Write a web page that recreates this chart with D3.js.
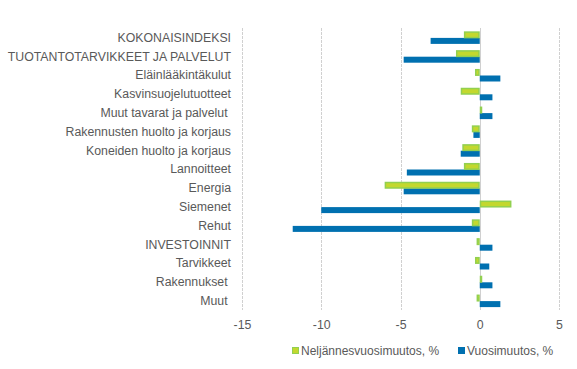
<!DOCTYPE html>
<html>
<head>
<meta charset="utf-8">
<script src="https://cdn.jsdelivr.net/npm/d3@7"></script>
<style>
  body { margin: 0; background: #fff; }
  svg text { font-family: "Liberation Sans", Arial, sans-serif; fill: #595959; }
</style>
</head>
<body>
<svg id="chart" width="577" height="369"></svg>
<script>
var categories = [
  "KOKONAISINDEKSI",
  "TUOTANTOTARVIKKEET JA PALVELUT",
  "Eläinlääkintäkulut",
  "Kasvinsuojelutuotteet",
  "Muut tavarat ja palvelut ",
  "Rakennusten huolto ja korjaus",
  "Koneiden huolto ja korjaus",
  "Lannoitteet",
  "Energia",
  "Siemenet",
  "Rehut",
  "INVESTOINNIT",
  "Tarvikkeet",
  "Rakennukset ",
  "Muut "
];
var quarterChange = [-1.0, -1.5, -0.3, -1.2, 0.1, -0.5, -1.1, -1.0, -6.0, 2.0, -0.5, -0.2, -0.3, 0.1, -0.2];
var yearChange = [-3.1, -4.8, 1.3, 0.8, 0.8, -0.4, -1.2, -4.6, -4.8, -10.0, -11.8, 0.8, 0.6, 0.8, 1.3];
var xTicks = [-15, -10, -5, 0, 5];
var seriesNames = ["Neljännesvuosimuutos, %", "Vuosimuutos, %"];

var svg = d3.select("#chart");

var marginTop = 28,
    marginBottom = 59,
    marginLeft = 242,
    marginRight = 18;

var width = 577 - marginLeft - marginRight,
    height = 369 - marginTop - marginBottom;

var x = d3.scaleLinear().domain([-15, 5]).range([0, width]);
var y = d3.scaleBand().domain(categories).range([0, height]);

var el = svg.append("g")
    .attr("transform", "translate(" + marginLeft + "," + marginTop + ")");

// gridlines (the one at 0 is solid)
el.selectAll("line.grid")
  .data(xTicks)
  .enter().append("line")
  .attr("class", "grid")
  .attr("x1", function(d) { return Math.round(x(d)) + 0.5; })
  .attr("x2", function(d) { return Math.round(x(d)) + 0.5; })
  .attr("y1", 0)
  .attr("y2", height)
  .style("stroke", "#d0d0d0")
  .style("stroke-dasharray", function(d) { return d === 0 ? null : "3,1"; });

// yearly change (blue), drawn below
el.selectAll("rect.year")
  .data(yearChange)
  .enter().append("rect")
  .attr("class", "year")
  .attr("x", function(d) { return x(Math.min(0, d)); })
  .attr("width", function(d) { return Math.abs(x(d) - x(0)); })
  .attr("y", function(d, i) { return y(categories[i]) + y.bandwidth() / 2 + 0.5; })
  .attr("height", 6)
  .style("fill", "#0070b0");

// quarterly change (green)
el.selectAll("rect.quarter")
  .data(quarterChange)
  .enter().append("rect")
  .attr("class", "quarter")
  .attr("x", function(d) { return x(Math.min(0, d)) + 0.75; })
  .attr("width", function(d) { return Math.max(1, Math.abs(x(d) - x(0)) - 1.5); })
  .attr("y", function(d, i) { return y(categories[i]) + y.bandwidth() / 2 - 5.3; })
  .attr("height", 5.5)
  .style("fill", "#c3d82e")
  .style("stroke", "#92d050")
  .style("stroke-width", 1.5);

// category labels
el.selectAll("text.cat")
  .data(categories)
  .enter().append("text")
  .attr("class", "cat")
  .attr("x", -11)
  .attr("y", function(d) { return y(d) + y.bandwidth() / 2; })
  .attr("dy", "0.35em")
  .attr("text-anchor", "end")
  .style("font-size", "12.3px")
  .style("white-space", "pre")
  .text(function(d) { return d; });

// x axis, plain hyphen minus like the original
var xAxis = el.append("g")
  .attr("transform", "translate(0," + height + ")")
  .call(d3.axisBottom(x).tickValues(xTicks).tickSize(0).tickPadding(10)
    .tickFormat(function(d) { return String(d); }));
xAxis.select(".domain").remove();
xAxis.selectAll("text")
  .style("font-size", "12.3px")
  .style("fill", "#595959")
  .style("font-family", "'Liberation Sans', Arial, sans-serif");

// legend
var legendItems = [
  { name: seriesNames[0], x: 292, fill: "#c3d82e", stroke: "#92d050" },
  { name: seriesNames[1], x: 458, fill: "#0070b0", stroke: "#0070b0" }
];
var legend = svg.selectAll("g.legend")
  .data(legendItems)
  .enter().append("g")
  .attr("class", "legend")
  .attr("transform", function(d) { return "translate(" + d.x + ",351)"; });
legend.append("rect")
  .attr("x", 0.5)
  .attr("y", -3.5)
  .attr("width", 6)
  .attr("height", 6)
  .style("fill", function(d) { return d.fill; })
  .style("stroke", function(d) { return d.stroke; })
  .style("stroke-width", 1);
legend.append("text")
  .attr("x", 9)
  .attr("dy", "0.35em")
  .style("font-size", "12px")
  .text(function(d) { return d.name; });
</script>
</body>
</html>
